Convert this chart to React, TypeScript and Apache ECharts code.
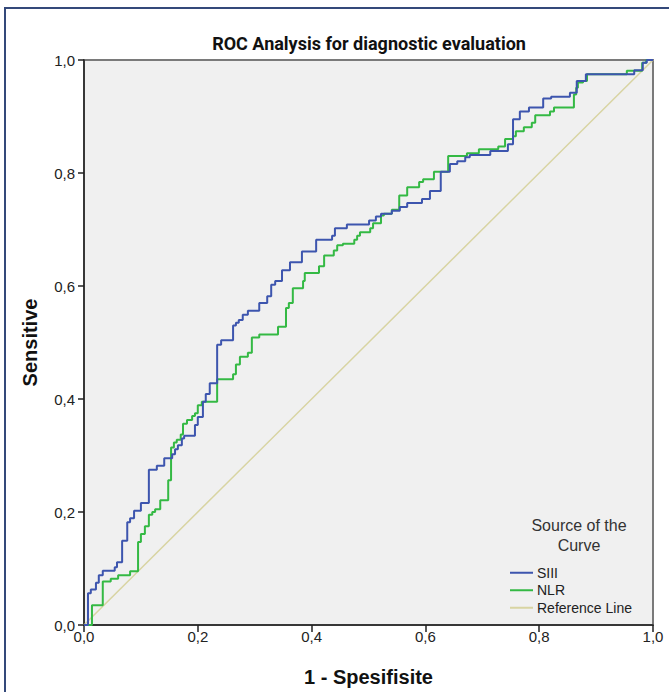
import React, { useEffect, useRef } from 'react';
import * as echarts from 'echarts';

const chartTitle = 'ROC Analysis for diagnostic evaluation';
const xAxisTitle = '1 - Spesifisite';
const yAxisTitle = 'Sensitive';
const legendTitle = 'Source of the\nCurve';
const seriesNames = ['SIII', 'NLR', 'Reference Line'];

// SIII ROC curve (1 - specificity, sensitivity)
const siiiFpr = [0, 0.007, 0.012, 0.021, 0.026, 0.033, 0.054, 0.058, 0.067, 0.076, 0.081, 0.088, 0.1, 0.114, 0.128, 0.141, 0.155, 0.16, 0.165, 0.172, 0.176, 0.195, 0.2, 0.209, 0.214, 0.221, 0.234, 0.241, 0.262, 0.267, 0.272, 0.279, 0.288, 0.308, 0.322, 0.329, 0.336, 0.348, 0.362, 0.383, 0.408, 0.436, 0.441, 0.462, 0.501, 0.513, 0.522, 0.541, 0.555, 0.568, 0.594, 0.608, 0.627, 0.643, 0.656, 0.67, 0.678, 0.714, 0.745, 0.754, 0.766, 0.782, 0.807, 0.821, 0.854, 0.866, 0.882, 0.967, 0.982, 0.989, 1.0];
const siiiTpr = [0, 0.056, 0.063, 0.075, 0.088, 0.096, 0.102, 0.111, 0.149, 0.182, 0.189, 0.202, 0.216, 0.275, 0.282, 0.295, 0.302, 0.311, 0.318, 0.33, 0.335, 0.354, 0.368, 0.395, 0.409, 0.428, 0.496, 0.504, 0.53, 0.535, 0.54, 0.549, 0.556, 0.57, 0.582, 0.602, 0.609, 0.628, 0.642, 0.661, 0.682, 0.689, 0.702, 0.709, 0.716, 0.723, 0.728, 0.733, 0.74, 0.747, 0.754, 0.768, 0.802, 0.816, 0.821, 0.828, 0.832, 0.839, 0.851, 0.895, 0.909, 0.916, 0.932, 0.935, 0.942, 0.963, 0.975, 0.982, 0.995, 1.0, 1.0];

// NLR ROC curve
const nlrFpr = [0, 0.014, 0.033, 0.047, 0.06, 0.081, 0.095, 0.1, 0.107, 0.114, 0.12, 0.125, 0.134, 0.148, 0.153, 0.158, 0.163, 0.17, 0.174, 0.181, 0.19, 0.195, 0.2, 0.207, 0.234, 0.262, 0.267, 0.274, 0.288, 0.295, 0.308, 0.341, 0.355, 0.36, 0.367, 0.385, 0.388, 0.413, 0.422, 0.439, 0.445, 0.455, 0.475, 0.48, 0.485, 0.503, 0.508, 0.522, 0.527, 0.541, 0.554, 0.568, 0.589, 0.596, 0.615, 0.64, 0.673, 0.694, 0.728, 0.74, 0.754, 0.759, 0.773, 0.787, 0.793, 0.819, 0.826, 0.861, 0.865, 0.868, 0.877, 0.884, 0.954, 0.981, 0.988, 1.0];
const nlrTpr = [0, 0.035, 0.077, 0.082, 0.088, 0.095, 0.147, 0.161, 0.175, 0.195, 0.2, 0.205, 0.221, 0.256, 0.314, 0.323, 0.328, 0.337, 0.356, 0.363, 0.37, 0.375, 0.389, 0.395, 0.435, 0.444, 0.461, 0.475, 0.482, 0.509, 0.514, 0.528, 0.561, 0.57, 0.596, 0.609, 0.623, 0.635, 0.654, 0.663, 0.672, 0.675, 0.682, 0.689, 0.695, 0.702, 0.711, 0.725, 0.728, 0.735, 0.76, 0.775, 0.784, 0.789, 0.802, 0.83, 0.835, 0.842, 0.847, 0.86, 0.865, 0.874, 0.881, 0.889, 0.902, 0.909, 0.916, 0.939, 0.951, 0.96, 0.963, 0.975, 0.981, 0.995, 1.0, 1.0];

// Reference (chance) line
const refFpr = [0, 1];
const refTpr = [0, 1];

const colors = { siii: '#3d55ae', nlr: '#34b944', ref: '#d8d4a2' };

const zip = (xs: number[], ys: number[]) => xs.map((x, i) => [x, ys[i]]);
const fmt = (v: number) => v.toFixed(1).replace('.', ',');

export default function App() {
  const ref = useRef<HTMLDivElement>(null);
  useEffect(() => {
    if (!ref.current) return;
    const chart = echarts.init(ref.current, null, { renderer: 'svg' });
    chart.setOption({
      animation: false,
      backgroundColor: '#ffffff',
      title: [
        {
          text: chartTitle,
          left: 364,
          top: 29,
          textAlign: 'center',
          textStyle: { fontFamily: '"Liberation Sans Narrow", "Roboto", sans-serif', fontWeight: 'bold', fontSize: 18, color: '#111' },
        },
        {
          text: legendTitle,
          left: 574,
          top: 510,
          textAlign: 'center',
          textStyle: { fontFamily: '"Liberation Sans", Arial, sans-serif', fontWeight: 'normal', fontSize: 16, lineHeight: 20, color: '#333' },
        },
      ],
      graphic: [
        {
          type: 'rect',
          shape: { x: 5, y: 8, width: 720, height: 720 },
          style: { fill: 'none', stroke: '#34497a', lineWidth: 2 },
          silent: true,
        },
      ],
      legend: {
        orient: 'vertical',
        left: 510,
        top: 565,
        padding: 0,
        itemWidth: 23,
        itemHeight: 2,
        itemGap: 2,
        icon: 'rect',
        data: seriesNames,
        textStyle: { fontFamily: '"Liberation Sans", Arial, sans-serif', fontSize: 14, lineHeight: 15.5, color: '#222', padding: [0, 0, 0, -1] },
      },
      grid: {
        left: 84,
        right: 16,
        top: 60,
        bottom: 62,
        show: true,
        backgroundColor: '#f0f0f0',
        borderColor: '#7a7a7a',
        borderWidth: 2,
      },
      xAxis: {
        type: 'value',
        min: 0,
        max: 1,
        interval: 0.2,
        name: xAxisTitle,
        nameLocation: 'middle',
        nameGap: 42,
        nameTextStyle: { fontFamily: '"Liberation Sans", Arial, sans-serif', fontWeight: 'bold', fontSize: 20, color: '#111' },
        axisLine: { show: true, lineStyle: { color: '#222', width: 1.5 } },
        axisTick: { show: true, length: 7, lineStyle: { color: '#222', width: 1.5 } },
        axisLabel: { margin: 4, formatter: fmt, fontFamily: '"Liberation Sans", Arial, sans-serif', fontSize: 15, color: '#222' },
        splitLine: { show: false },
      },
      yAxis: {
        type: 'value',
        min: 0,
        max: 1,
        interval: 0.2,
        name: yAxisTitle,
        nameLocation: 'middle',
        nameRotate: 90,
        nameGap: 44,
        nameTextStyle: { fontFamily: '"Liberation Sans", Arial, sans-serif', fontWeight: 'bold', fontSize: 20, color: '#111' },
        axisLine: { show: true, lineStyle: { color: '#222', width: 1.5 } },
        axisTick: { show: true, length: 6, lineStyle: { color: '#222', width: 1.5 } },
        axisLabel: { margin: 9, formatter: fmt, fontFamily: '"Liberation Sans", Arial, sans-serif', fontSize: 15, color: '#222' },
        splitLine: { show: false },
      },
      series: [
        {
          name: seriesNames[0],
          type: 'line',
          step: 'end',
          showSymbol: false,
          symbol: 'none',
          data: zip(siiiFpr, siiiTpr),
          lineStyle: { color: colors.siii, width: 2 },
          itemStyle: { color: colors.siii },
          z: 4,
        },
        {
          name: seriesNames[1],
          type: 'line',
          step: 'end',
          showSymbol: false,
          symbol: 'none',
          data: zip(nlrFpr, nlrTpr),
          lineStyle: { color: colors.nlr, width: 2 },
          itemStyle: { color: colors.nlr },
          z: 3,
        },
        {
          name: seriesNames[2],
          type: 'line',
          showSymbol: false,
          symbol: 'none',
          data: zip(refFpr, refTpr),
          lineStyle: { color: colors.ref, width: 1.5 },
          itemStyle: { color: colors.ref },
          z: 2,
        },
      ],
    });
    return () => chart.dispose();
  }, []);
  return (
    <div
      ref={ref}
      style={{ position: 'absolute', left: 0, top: 0, width: 669, height: 692 }}
    />
  );
}
